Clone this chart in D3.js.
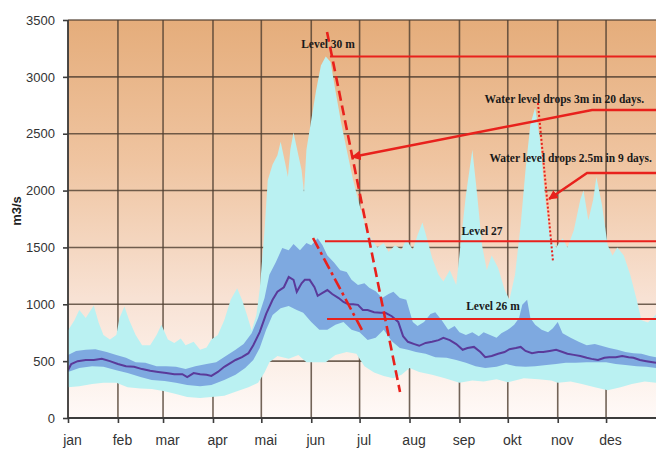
<!DOCTYPE html>
<html>
<head>
<meta charset="utf-8">
<script src="https://cdn.jsdelivr.net/npm/d3@7"></script>
<style>
  html, body { margin: 0; padding: 0; background: #ffffff; }
  svg { display: block; }
</style>
</head>
<body>
<svg id="chart" width="656" height="449"></svg>
<script>
// ---- Daily discharge statistics (m3/s), day of year ----
const months = ["jan","feb","mar","apr","mai","jun","jul","aug","sep","okt","nov","des"];
const monthStartDays = [0,31,59,90,120,151,181,212,243,273,304,334];
const yTicks = [0,500,1000,1500,2000,2500,3000,3500];

const maxDays = [0,4,7,11,16,19,22,26,30,32,35,38,42,46,51,55,58,62,66,70,73,78,82,86,89,93,97,101,105,108,111,114,117,119,122,124,127,130,132,135,136.5,138,140,143,145,146.5,148,151,154,157,160,163,166,169.5,173,177,181,184,188,192,196,199,203,207,210,214,217,220,223,226,230,233,237,241,244,247,251,254,257,260,263,267,271,274,277.5,281,284,287,290,293,296,299,303,307,310,314,318,320,323,326,328,331.5,335,338,341,345,349,353,356,360,365];
const maxValues = [770,860,950,880,990,840,730,690,730,880,980,860,730,640,640,730,820,690,660,700,640,670,600,620,690,730,860,1040,1140,1040,910,770,910,1130,1650,2090,2230,2310,2430,2230,2120,2360,2510,2310,2180,1980,2360,2620,2880,3100,3180,3130,2880,2600,2360,2090,1870,1720,1580,1500,1540,1460,1520,1480,1570,1480,1610,1720,1570,1410,1260,1200,1300,1170,1570,1960,2360,1960,1520,1300,1430,1320,1130,1040,1260,1700,2180,2580,2730,2450,1960,1610,1500,1580,1500,1650,1920,2000,1740,1920,2120,1870,1520,1430,1500,1430,1260,1040,860,840,910];

const minDays = [0,7,15,22,30,37,45,52,60,67,74,82,89,97,104,112,118,122,125,130,137,143,148,154,160,166,173,179,184,190,196,202,207,212,218,226,234,243,251,258,266,273,283,292,300,304,312,319,327,335,343,350,358,365];
const minValues = [270,280,300,310,310,270,260,255,235,210,185,175,185,195,230,270,310,400,490,545,520,555,490,490,490,555,580,565,455,400,370,350,380,440,405,380,350,310,330,320,340,315,350,340,330,310,320,300,270,245,270,300,320,310];

const q75Days = [0,5,11,17,24,30,36,42,48,55,61,67,73,79,86,92,98,104,109,114,118,122,125,129,133,137,140,144,148,151,155,158,161,165,169,173,176,180,184,187,191,195,199,202,206,210,214,217,221,225,228,232,236,240,243,247,251,255,258,262,266,269,273,277,280,282,285,287,290,294,298,301,304,307,312,317,322,327,331,336,341,346,351,356,361,365];
const q75Values = [555,590,600,605,580,555,530,490,485,455,455,450,430,455,475,490,545,600,650,745,880,1055,1260,1370,1495,1475,1530,1475,1540,1520,1580,1520,1430,1370,1300,1285,1215,1170,1185,1145,1115,1055,1090,1110,1055,1040,845,810,845,915,930,860,775,810,755,730,755,720,755,730,705,745,775,820,880,995,1040,880,820,775,755,790,845,745,705,670,640,650,635,615,600,580,570,565,545,535];

const q25Days = [0,7,15,22,30,37,45,52,60,67,74,82,89,97,104,110,115,119,123,127,132,137,142,146,151,156,161,166,171,176,181,186,191,196,201,206,211,216,222,228,235,241,247,253,259,266,272,278,284,290,297,303,309,315,322,328,334,340,346,353,359,365];
const q25Values = [405,440,455,450,420,395,360,335,325,310,290,280,290,335,380,440,510,615,775,905,965,985,950,925,845,775,775,820,845,775,755,685,705,775,675,615,600,580,565,535,530,510,485,455,440,450,475,455,450,455,465,475,485,485,490,490,490,475,465,455,450,440];

const medianDays = [0,2,6,11,16,21,26,31,36,41,46,51,56,61,66,71,74,78,82,86,89,93,97,101,104,108,112,115,119,123,127,130,134,137,140,142,145,147,150,153,155,158,161,164,168,171,174,177,180,183,186,190,194,197,201,205,208,211,215,218,222,226,230,233,237,241,245,248,252,256,259,263,267,271,274,278,281,284,288,292,295,299,303,307,310,314,318,322,325,329,333,336,340,344,348,351,355,359,363,365];
const medianValues = [420,475,500,510,510,520,500,475,455,450,430,415,405,395,385,385,360,395,385,380,370,405,450,485,510,535,570,640,755,915,1040,1110,1150,1240,1215,1110,1185,1215,1215,1150,1075,1100,1125,1090,1055,1020,1000,1000,995,950,950,930,925,925,895,845,720,670,650,635,660,670,685,705,685,650,600,615,625,580,535,545,565,580,605,615,625,590,570,580,580,590,600,580,565,555,545,530,520,510,530,535,535,545,535,530,510,500,490,485];

// ---- Reservoir level annotations (value in m3/s, start day) ----
const levelNames = ["Level 30 m", "Level 27", "Level 26 m"];
const levelValues = [3180, 1555, 870];
const levelStartDays = [162.6, 159.5, 160.8];
const levelLabelDays = [161.4, 257, 263.8];
const levelLabelValues = [3258, 1609, 950];

const noteTexts = ["Water level drops 3m in 20 days.", "Water level drops 2.5m in 9 days."];
const noteDays = [258.6, 261.6];
const noteValues = [2770, 2251];
// arrow polylines: [day, value]
const arrow1 = [[365, 2709], [325.3, 2709], [176.3, 2295]];
const arrow2 = [[365, 2155], [322.2, 2155], [298.6, 1926]];
// drawdown trend lines
const trendDashed = [[160.8, 3394], [206.1, 229]];
const trendDotted = [[291.7, 2770], [301.1, 1372]];
const trendDashDot = [[152.1, 1583], [182.5, 774]];

// ---- Layout ----
const svg = d3.select("#chart");
const margin = {left: 68, top: 20, right: 0, bottom: 31};
const W = 656, H = 449;
const x = d3.scaleLinear().domain([0, 365]).range([margin.left, W - margin.right]);
const y = d3.scaleLinear().domain([0, 3500]).range([H - margin.bottom, margin.top]);

const defs = svg.append("defs");
const grad = defs.append("linearGradient").attr("id", "bg").attr("x1", 0).attr("y1", 0).attr("x2", 0).attr("y2", 1);
grad.append("stop").attr("offset", "0%").attr("stop-color", "#e5ad7b");
grad.append("stop").attr("offset", "35%").attr("stop-color", "#efc4a0");
grad.append("stop").attr("offset", "70%").attr("stop-color", "#f8e2d4");
grad.append("stop").attr("offset", "100%").attr("stop-color", "#fffaf8");

defs.append("clipPath").attr("id", "plotClip").append("rect")
  .attr("x", x(0)).attr("y", y(3500)).attr("width", x(365) - x(0)).attr("height", y(0) - y(3500));

const marker = defs.append("marker").attr("id", "arrowHead")
  .attr("viewBox", "0 0 10 10").attr("refX", 9).attr("refY", 5)
  .attr("markerWidth", 4).attr("markerHeight", 4).attr("orient", "auto")
  .attr("markerUnits", "strokeWidth");
marker.append("path").attr("d", "M0,0 L10,5 L0,10 Z").attr("fill", "#e8211c");

// plot background
svg.append("rect")
  .attr("x", x(0)).attr("y", y(3500))
  .attr("width", x(365) - x(0)).attr("height", y(0) - y(3500))
  .attr("fill", "url(#bg)");

// grid
const grid = svg.append("g").attr("stroke", "#4f3f31").attr("stroke-opacity", 0.8).attr("stroke-width", 1.6);
grid.selectAll("line.h").data(yTicks).join("line")
  .attr("x1", x(0)).attr("x2", x(365)).attr("y1", d => y(d)).attr("y2", d => y(d));
grid.selectAll("line.v").data(monthStartDays).join("line")
  .attr("x1", d => x(d)).attr("x2", d => x(d)).attr("y1", y(3500)).attr("y2", y(0));

// bands
const plot = svg.append("g").attr("clip-path", "url(#plotClip)");
function bandPath(upDays, upVals, loDays, loVals) {
  const up = upDays.map((d, i) => [x(d), y(upVals[i])]);
  const lo = loDays.map((d, i) => [x(d), y(loVals[i])]).reverse();
  return d3.line()(up.concat(lo)) + "Z";
}
plot.append("path").attr("d", bandPath(maxDays, maxValues, minDays, minValues))
  .attr("fill", "#baf1f2");
plot.append("path").attr("d", bandPath(q75Days, q75Values, q25Days, q25Values))
  .attr("fill", "#7ea9e0");
plot.append("path")
  .attr("d", d3.line().curve(d3.curveLinear)(medianDays.map((d, i) => [x(d), y(medianValues[i])])))
  .attr("fill", "none").attr("stroke", "#5a3a9a").attr("stroke-width", 2);

// axes
const axisColor = "#3c3c3c";
svg.append("line").attr("x1", x(0)).attr("x2", x(0)).attr("y1", y(3500)).attr("y2", y(0))
  .attr("stroke", axisColor).attr("stroke-width", 1.6);
svg.append("line").attr("x1", x(0)).attr("x2", x(365)).attr("y1", y(0)).attr("y2", y(0))
  .attr("stroke", axisColor).attr("stroke-width", 1.8);

const yAxis = svg.append("g").attr("transform", `translate(${x(0)},0)`)
  .call(d3.axisLeft(y).tickValues(yTicks).tickSize(5).tickPadding(8).tickFormat(d3.format("d")));
yAxis.select(".domain").remove();
yAxis.selectAll("line").attr("stroke", axisColor).attr("stroke-width", 1.6);
yAxis.selectAll("text").attr("fill", "#333").style("font", "13px 'Liberation Sans', Arial, sans-serif");

const xAxis = svg.append("g").attr("transform", `translate(0,${y(0)})`)
  .call(d3.axisBottom(x).tickValues(monthStartDays).tickSize(5).tickPadding(12)
    .tickFormat((d, i) => months[i]));
xAxis.select(".domain").remove();
xAxis.selectAll("line").attr("stroke", axisColor).attr("stroke-width", 1.6);
xAxis.selectAll("text").attr("fill", "#333").attr("dx", 4)
  .style("font", "14px 'Liberation Sans', Arial, sans-serif");

svg.append("text")
  .attr("transform", `translate(21,${y(1820)}) rotate(-90)`)
  .attr("text-anchor", "middle")
  .attr("fill", "#222")
  .style("font", "bold 13px 'Liberation Sans', Arial, sans-serif")
  .text("m3/s");

// annotations
const red = "#e8211c";
const ann = svg.append("g");
const serif = "bold 11.5px 'Liberation Serif', 'Times New Roman', serif";

ann.selectAll("line.level").data(levelValues).join("line")
  .attr("x1", (d, i) => x(levelStartDays[i])).attr("x2", x(365))
  .attr("y1", d => y(d)).attr("y2", d => y(d))
  .attr("stroke", red).attr("stroke-width", 2);

const line = d3.line().x(p => x(p[0])).y(p => y(p[1]));
ann.append("path").attr("d", line(trendDashed)).attr("fill", "none")
  .attr("stroke", red).attr("stroke-width", 2.6).attr("stroke-dasharray", "10,5");
ann.append("path").attr("d", line(trendDotted)).attr("fill", "none")
  .attr("stroke", red).attr("stroke-width", 2).attr("stroke-dasharray", "2,2");
ann.append("path").attr("d", line(trendDashDot)).attr("fill", "none")
  .attr("stroke", red).attr("stroke-width", 2.6).attr("stroke-dasharray", "12,4,3,4");

[arrow1, arrow2].forEach(a => {
  ann.append("path").attr("d", line(a)).attr("fill", "none")
    .attr("stroke", red).attr("stroke-width", 2.4)
    .attr("marker-end", "url(#arrowHead)");
});

ann.selectAll("text.level").data(levelNames).join("text")
  .attr("x", (d, i) => x(levelLabelDays[i])).attr("y", (d, i) => y(levelLabelValues[i]))
  .attr("text-anchor", "middle").attr("fill", "#1a1a1a").style("font", serif)
  .text(d => d);

ann.selectAll("text.note").data(noteTexts).join("text")
  .attr("x", (d, i) => x(noteDays[i])).attr("y", (d, i) => y(noteValues[i]))
  .attr("text-anchor", "start").attr("fill", "#1a1a1a").style("font", serif)
  .text(d => d);
</script>
</body>
</html>
